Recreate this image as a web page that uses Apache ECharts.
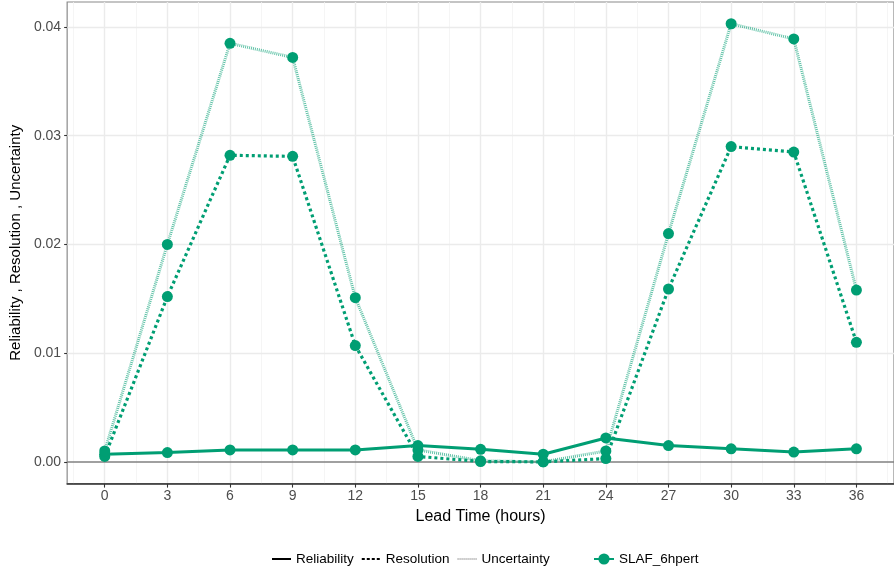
<!DOCTYPE html>
<html>
<head>
<meta charset="utf-8">
<script src="https://cdn.jsdelivr.net/npm/echarts@6/dist/echarts.min.js"></script>
<style>
  html, body { margin: 0; padding: 0; background: #ffffff; }
  #chart { width: 894px; height: 567px; }
</style>
</head>
<body>
<div id="chart"></div>
<script>
// Lead times (hours) and the three score components for SLAF_6hpert
const leadTimes   = [0, 3, 6, 9, 12, 15, 18, 21, 24, 27, 30, 33, 36];
const reliability = [0.0007, 0.00085, 0.0011, 0.0011, 0.0011, 0.0015, 0.00115, 0.0007, 0.0022, 0.0015, 0.0012, 0.0009, 0.0012];
const resolution  = [0.0005, 0.0152, 0.0282, 0.0281, 0.0107, 0.0005, 0.00003, 0.0000, 0.0003, 0.0159, 0.0290, 0.0285, 0.0110];
const uncertainty = [0.0010, 0.0200, 0.0385, 0.0372, 0.0151, 0.0011, 0.0001, 0.0000, 0.0010, 0.0210, 0.0403, 0.0389, 0.0158];

// Axis breaks
const xTicks      = [0, 3, 6, 9, 12, 15, 18, 21, 24, 27, 30, 33, 36];
const xMinorTicks = [-1.5, 1.5, 4.5, 7.5, 10.5, 13.5, 16.5, 19.5, 22.5, 25.5, 28.5, 31.5, 34.5, 37.5];
const yTicks      = [0, 0.01, 0.02, 0.03, 0.04];
const yMinorTicks = [0.005, 0.015, 0.025, 0.035];

const seriesName = 'SLAF_6hpert';
const componentNames = ['Reliability', 'Resolution', 'Uncertainty'];

const GREEN = '#009E73';
const FONT = '"Liberation Sans", Arial, Helvetica, sans-serif';

const pairs = arr => leadTimes.map((t, i) => [t, arr[i]]);

const majorGrid = { color: '#ebebeb', width: 1.4, type: 'solid' };
const minorGrid = { color: '#f3f3f3', width: 0.8, type: 'solid' };

const gridLines = []
  .concat(xMinorTicks.map(v => ({ xAxis: v, lineStyle: minorGrid })))
  .concat(yMinorTicks.map(v => ({ yAxis: v, lineStyle: minorGrid })))
  .concat(xTicks.map(v => ({ xAxis: v, lineStyle: majorGrid })))
  .concat(yTicks.filter(v => v !== 0).map(v => ({ yAxis: v, lineStyle: majorGrid })));

const dataSeries = (values, lineStyle) => ({
  name: seriesName,
  type: 'line',
  data: pairs(values),
  z: 5,
  symbol: 'circle',
  symbolSize: 11,
  showAllSymbol: true,
  itemStyle: { color: GREEN, opacity: 1 },
  lineStyle: Object.assign({ color: GREEN }, lineStyle),
  emphasis: { disabled: true },
  animation: false
});

const keySeries = (name, lineStyle) => ({
  name: name,
  type: 'line',
  data: [],
  symbol: 'none',
  itemStyle: { color: '#000000' },
  lineStyle: Object.assign({ color: '#000000' }, lineStyle),
  animation: false
});

const option = {
  animation: false,
  backgroundColor: '#ffffff',
  textStyle: { fontFamily: FONT },
  grid: {
    left: 67, top: 2, right: -4, bottom: 83.4,
    show: true, backgroundColor: '#ffffff',
    borderColor: '#8a8a8a', borderWidth: 1.2,
    containLabel: false
  },
  xAxis: {
    type: 'value',
    min: -1.8, max: 37.8,
    z: 6,
    name: 'Lead Time (hours)',
    nameLocation: 'middle',
    nameGap: 23,
    nameTextStyle: { fontSize: 16, color: '#000000', fontFamily: FONT },
    axisLine: { show: true, onZero: false, lineStyle: { color: '#333333', width: 1.6 } },
    axisTick: { show: true, length: 4, customValues: xTicks, lineStyle: { color: '#333333', width: 1.1 } },
    axisLabel: {
      customValues: xTicks, margin: 6,
      fontSize: 14, color: '#4d4d4d', fontFamily: FONT,
      formatter: v => String(v)
    },
    splitLine: { show: false }
  },
  yAxis: {
    type: 'value',
    min: -0.002, max: 0.0423,
    z: 6,
    name: 'Reliability , Resolution , Uncertainty',
    nameLocation: 'middle',
    nameGap: 40,
    nameTextStyle: { fontSize: 15, color: '#000000', fontFamily: FONT },
    axisLine: { show: false, onZero: false },
    axisTick: { show: true, length: 3, customValues: yTicks, lineStyle: { color: '#333333', width: 1.1 } },
    axisLabel: {
      customValues: yTicks, margin: 6,
      fontSize: 14, color: '#4d4d4d', fontFamily: FONT,
      formatter: v => v.toFixed(2)
    },
    splitLine: { show: false }
  },
  legend: [
    {
      data: componentNames,
      orient: 'horizontal',
      left: 266, top: 547,
      itemWidth: 19, itemHeight: 14, itemGap: 7,
      selectedMode: false,
      itemStyle: { opacity: 0 },
      textStyle: { fontSize: 13.5, color: '#000000', fontFamily: FONT }
    },
    {
      data: [seriesName],
      orient: 'horizontal',
      left: 588, top: 547,
      itemWidth: 20, itemHeight: 14,
      selectedMode: false,
      textStyle: { fontSize: 13.5, color: '#000000', fontFamily: FONT }
    }
  ],
  series: [
    // background grid
    {
      name: 'grid', type: 'line', data: [], z: 1, silent: true,
      markLine: {
        silent: true, symbol: ['none', 'none'], animation: false,
        label: { show: false },
        emphasis: { disabled: true },
        data: gridLines
      }
    },
    // reference line at zero
    {
      name: 'zero', type: 'line', data: [], z: 2, silent: true,
      markLine: {
        silent: true, symbol: ['none', 'none'], animation: false,
        label: { show: false },
        emphasis: { disabled: true },
        data: [{ yAxis: 0, lineStyle: { color: '#808080', width: 1.5, type: 'solid' } }]
      }
    },
    dataSeries(reliability, { width: 3, type: 'solid' }),
    dataSeries(resolution,  { width: 3.2, type: [3, 3] }),
    dataSeries(uncertainty, { width: 3, type: [1, 1], opacity: 0.62 }),
    // line-type key entries
    keySeries('Reliability', { width: 3, type: 'solid' }),
    keySeries('Resolution',  { width: 3, type: [3, 2] }),
    keySeries('Uncertainty', { width: 3, type: [1, 1], opacity: 0.35 })
  ]
};

const chart = echarts.init(document.getElementById('chart'), null, { renderer: 'canvas' });
chart.setOption(option);
</script>
</body>
</html>
